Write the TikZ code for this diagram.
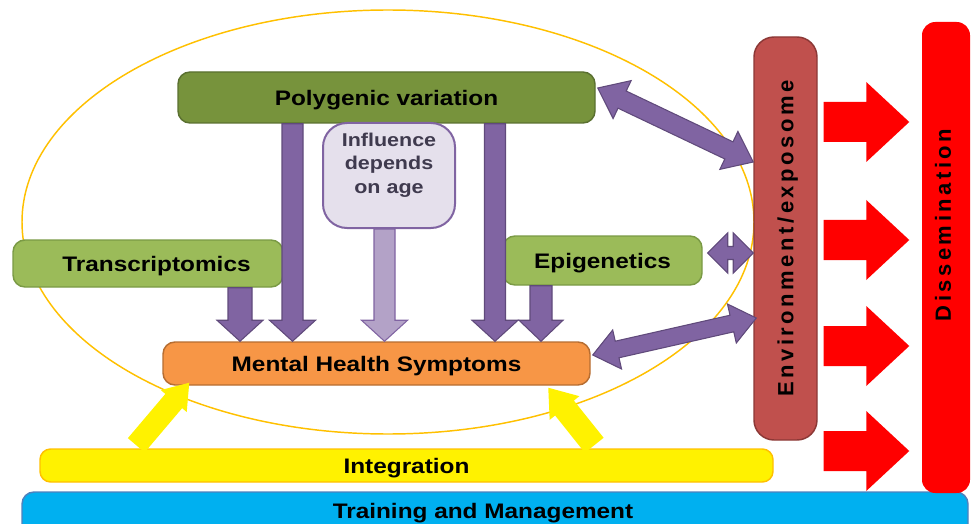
\documentclass[tikz,border=0pt]{standalone}
\usepackage{fontspec}
\usepackage{tikz}
\usetikzlibrary{calc}

\newfontfamily\boxfont{Liberation Sans}[FakeStretch=1.16]
\newfontfamily\spacedfont{Liberation Sans}[LetterSpace=16]

\definecolor{polygreen}{HTML}{77933C}
\definecolor{polyline}{HTML}{5A7030}
\definecolor{leafgreen}{HTML}{9BBB59}
\definecolor{leafline}{HTML}{7A9A45}
\definecolor{lavender}{HTML}{E5E0EC}
\definecolor{purplearr}{HTML}{8064A2}
\definecolor{purpleline}{HTML}{604A7B}
\definecolor{lilac}{HTML}{B3A2C7}
\definecolor{symptorange}{HTML}{F79646}
\definecolor{symptline}{HTML}{B66D31}
\definecolor{envred}{HTML}{C0504D}
\definecolor{envline}{HTML}{8C3836}
\definecolor{ringline}{HTML}{FFC000}
\definecolor{trainblue}{HTML}{00B0F0}
\definecolor{trainline}{HTML}{4F81BD}
\definecolor{infltext}{HTML}{3F3A4E}

% block arrow: style, from, to, shaft half width, head half width, head length (px)
\newcommand{\blockarrow}[6]{%
  \coordinate (ba-s) at (#2);
  \coordinate (ba-t) at (#3);
  \coordinate (ba-h) at ($(ba-t)!#6*0.75pt!(ba-s)$);
  \draw[#1] ($(ba-s)!#4*0.75pt!90:(ba-t)$) -- ($(ba-h)!#4*0.75pt!-90:(ba-s)$) -- ($(ba-h)!#5*0.75pt!-90:(ba-s)$) -- (ba-t) -- ($(ba-h)!#5*0.75pt!90:(ba-s)$) -- ($(ba-h)!#4*0.75pt!90:(ba-s)$) -- ($(ba-s)!#4*0.75pt!-90:(ba-t)$) -- cycle;
}
% double block arrow: style, end a, end b, shaft half width, head half width, head length (px)
\newcommand{\dblarrow}[6]{%
  \coordinate (da-a) at (#2);
  \coordinate (da-b) at (#3);
  \coordinate (da-ha) at ($(da-a)!#6*0.75pt!(da-b)$);
  \coordinate (da-hb) at ($(da-b)!#6*0.75pt!(da-a)$);
  \draw[#1] (da-a) -- ($(da-ha)!#5*0.75pt!90:(da-b)$) -- ($(da-ha)!#4*0.75pt!90:(da-b)$) -- ($(da-hb)!#4*0.75pt!-90:(da-a)$) -- ($(da-hb)!#5*0.75pt!-90:(da-a)$) -- (da-b) -- ($(da-hb)!#5*0.75pt!90:(da-a)$) -- ($(da-hb)!#4*0.75pt!90:(da-a)$) -- ($(da-ha)!#4*0.75pt!-90:(da-b)$) -- ($(da-ha)!#5*0.75pt!-90:(da-b)$) -- cycle;
}

\begin{document}
\begin{tikzpicture}[x=0.75pt,y=0.75pt,yscale=-1,xscale=1,
    box/.style={draw, line width=1.1pt, rounded corners=9pt, inner sep=0pt, text=black, text depth=0pt,
      font=\boxfont\bfseries\fontsize{15.75}{18}\selectfont},
    upright/.style={rotate=90, inner sep=0pt, text=black,
      font=\spacedfont\bfseries\fontsize{16.5}{18}\selectfont},
    purplearrow/.style={fill=purplearr, draw=purpleline, line width=0.8pt},
    lilacarrow/.style={fill=lilac, draw=purplearr, line width=0.8pt},
    yellowarrow/.style={fill=yellow, draw=none},
    redarrow/.style={fill=red, draw=none},
    ring/.style={draw=ringline, line width=1.1pt}]
    \useasboundingbox (0,0) rectangle (971,524);
    \clip (0,0) rectangle (971,524);

    %Shape: Ellipse
    \draw [ring] (388,222) ellipse [x radius=366, y radius=212];

    %Shape: Rounded Rectangle
    \node [box, fill=polygreen, draw=polyline, minimum width=312.75pt, minimum height=38.25pt] (poly) at (386.5,97.5) {Polygenic variation};
    \node [box, fill=lavender, draw=purplearr, line width=1.5pt, rounded corners=18pt, minimum width=99pt, minimum height=78.75pt] (infl) at (389,175.5) {};
    \node [box, fill=leafgreen, draw=leafline, minimum width=202.5pt, minimum height=35.25pt] (trans) at (148,263.5) {\hspace*{12.75pt}Transcriptomics};
    \node [box, fill=leafgreen, draw=leafline, minimum width=149.25pt, minimum height=36.75pt] (epi) at (602.5,260.5) {Epigenetics};
    \node [box, fill=symptorange, draw=symptline, minimum width=320.25pt, minimum height=32.25pt] (mhs) at (376.5,363.5) {Mental Health Symptoms};
    \node [box, fill=yellow, draw=ringline, rounded corners=8pt, minimum width=549.75pt, minimum height=24.75pt] (integ) at (406.5,465.5) {Integration};
    \node [box, fill=trainblue, draw=trainline, minimum width=709.5pt, minimum height=33pt] (train) at (495,514) {\raisebox{5pt}{Training and Management}\hspace*{18pt}};
    \node [box, upright, fill=envred, draw=envline, line width=1.1pt, rounded corners=15pt, minimum width=302.25pt, minimum height=47.25pt] (env) at (785.5,238.5) {Environment/exposome};
    \node [box, fill=red, draw=none, rounded corners=10pt, minimum width=36pt, minimum height=353.25pt] (dissem) at (946,257.5) {};

    % Text Node
    \node [inner sep=0pt, align=center, text=infltext, font=\boxfont\bfseries\fontsize{13.9}{17.6}\selectfont] (infltxt) at (389,165) {Influence\\depends\\on age};
    % Text Node
    \node [upright] (dissemtxt) at (943,225) {Dissemination};

    %Shape: Down Arrows
    \blockarrow{purplearrow}{poly.south -| 292.5,0}{mhs.north -| 292.5,0}{10.5}{23}{21}
    \blockarrow{purplearrow}{poly.south -| 495,0}{mhs.north -| 495,0}{10.5}{23}{21}
    \blockarrow{lilacarrow}{infl.south -| 384.5,0}{mhs.north -| 384.5,0}{10.5}{23}{21}
    \blockarrow{purplearrow}{trans.south -| 240,0}{mhs.north -| 240,0}{12}{23}{21}
    \blockarrow{purplearrow}{epi.south -| 541,0}{mhs.north -| 541,0}{11}{22}{21}

    %Shape: Left-Right Arrows
    \dblarrow{purplearrow}{$(poly.east)+(2,-9.5)$}{env.north |- 0,162}{9.5}{21}{27}
    \dblarrow{purplearrow}{$(epi.east |- 0,253)+(5,0)$}{env.north |- 0,253}{6.5}{20}{20}
    \dblarrow{purplearrow}{$(mhs.east |- 0,355)+(2,0)$}{$(env.north |- 0,318)+(3,0)$}{8.5}{20}{25}

    %Shape: Yellow Arrows
    \blockarrow{yellowarrow}{$(integ.north west)+(97,-3)$}{$(mhs.south west)+(27,-3)$}{11}{17}{24}
    \blockarrow{yellowarrow}{$(integ.north west)+(555,-3)$}{$(mhs.south west)+(386,2)$}{12}{19}{26}

    %Shape: Right Arrows
    \foreach \ry in {122,240,346,451} {
      \blockarrow{redarrow}{$(env.south |- 0,\ry)+(6,0)$}{$(dissem.west |- 0,\ry)+(-12,0)$}{20}{40}{43}
    }

\end{tikzpicture}
\end{document}
